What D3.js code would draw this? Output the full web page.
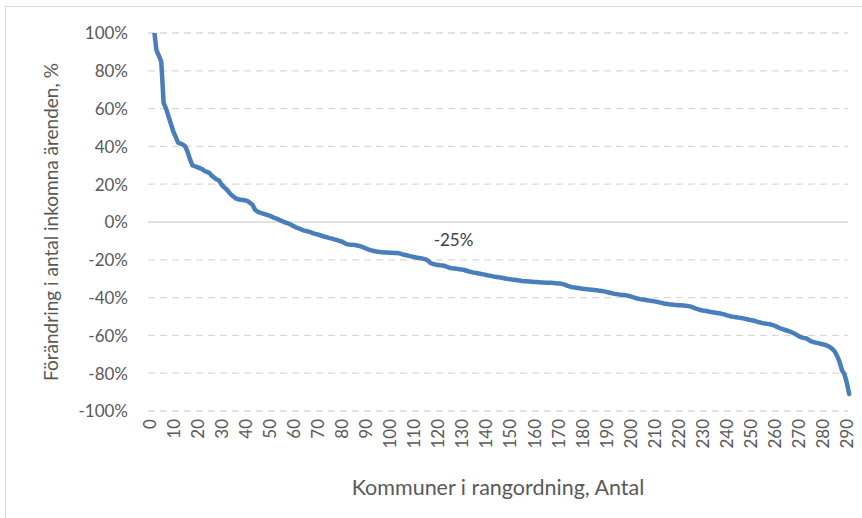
<!DOCTYPE html>
<html lang="sv">
<head>
    <meta charset="UTF-8">
    <title>Förändring i antal inkomna ärenden</title>
    <script src="https://d3js.org/d3.v7.min.js"></script>
    <style>
        body {
            margin: 0;
            background-color: #ffffff;
            font-family: Lato, "Open Sans", sans-serif;
        }

        svg {
            display: block;
        }

        .grid line {
            stroke: #d9d9d9;
            stroke-width: 1.3px;
            stroke-dasharray: 7 5;
        }

        .grid line.zero {
            stroke-dasharray: none;
        }

        .axis text {
            fill: #595959;
            font-size: 17px;
        }

        .axis-title {
            fill: #595959;
            font-size: 19px;
        }

        .x-title {
            font-size: 21.5px;
        }

        .line {
            fill: none;
            stroke: #4a7ebb;
            stroke-width: 4.5px;
            stroke-linejoin: round;
            stroke-linecap: round;
        }

        .note {
            fill: #404040;
            font-size: 17px;
        }
    </style>
</head>
<body>
<svg width="862" height="518"></svg>
<script>
    // förändring i procent per kommun, i rangordning (0..290)
    const change = [
        140, 120, 102, 91, 88, 85, 63, 60, 56, 52,
        48, 45, 42, 41.5, 41, 40, 37, 33, 30, 29.5,
        29, 28.5, 28, 27, 26.5, 26, 24.5, 23.5, 22.5, 22,
        20, 18.5, 17.5, 16, 14.5, 13.5, 12.5, 12, 11.8, 11.6,
        11.4, 11, 10, 9, 6.5, 5.5, 5, 4.6, 4.2, 3.8,
        3.4, 2.8, 2.2, 1.8, 1.2, 0.6, 0, -0.4, -0.9, -1.5,
        -2.2, -2.8, -3.3, -3.8, -4.4, -4.7, -5, -5.4, -5.9, -6.3,
        -6.6, -7, -7.4, -7.8, -8.1, -8.5, -8.8, -9.2, -9.5, -10,
        -10.3, -11, -11.7, -11.9, -12, -12.1, -12.3, -12.6, -12.9, -13.4,
        -14, -14.5, -14.9, -15.2, -15.5, -15.7, -15.9, -16, -16.1, -16.2,
        -16.3, -16.3, -16.4, -16.4, -16.6, -17, -17.3, -17.6, -17.9, -18.2,
        -18.5, -18.8, -19, -19.2, -19.5, -19.8, -20.5, -21.8, -22.2, -22.5,
        -22.7, -22.9, -23, -23.3, -23.8, -24.3, -24.5, -24.6, -24.8, -25,
        -25.2, -25.4, -25.8, -26.2, -26.5, -26.8, -27, -27.2, -27.5, -27.7,
        -28, -28.3, -28.5, -28.8, -29, -29.2, -29.4, -29.6, -29.9, -30.1,
        -30.3, -30.5, -30.6, -30.8, -31, -31.2, -31.3, -31.4, -31.5, -31.6,
        -31.7, -31.8, -31.9, -32, -32, -32.1, -32.2, -32.2, -32.3, -32.4,
        -32.5, -32.6, -32.9, -33.3, -33.8, -34.2, -34.5, -34.7, -34.9, -35.1,
        -35.3, -35.5, -35.6, -35.7, -35.8, -36, -36.1, -36.3, -36.5, -36.7,
        -37, -37.3, -37.6, -37.9, -38.1, -38.3, -38.5, -38.6, -38.8, -39,
        -39.3, -39.7, -40.1, -40.5, -40.8, -41, -41.2, -41.4, -41.6, -41.8,
        -42, -42.2, -42.5, -42.8, -43.1, -43.3, -43.5, -43.6, -43.8, -43.9,
        -44, -44.1, -44.2, -44.3, -44.5, -44.7, -45.2, -45.7, -46.1, -46.5,
        -46.8, -47, -47.2, -47.5, -47.7, -47.9, -48.1, -48.3, -48.6, -48.9,
        -49.3, -49.7, -50, -50.2, -50.4, -50.6, -50.8, -51, -51.3, -51.6,
        -51.9, -52.1, -52.4, -52.8, -53.2, -53.5, -53.7, -53.9, -54.1, -54.4,
        -54.9, -55.5, -56.1, -56.6, -57, -57.4, -57.8, -58.3, -58.9, -59.6,
        -60.4, -61, -61.3, -61.5, -62.2, -63, -63.5, -63.8, -64.1, -64.4,
        -64.7, -65, -65.5, -66.2, -67.2, -68.5, -71, -74, -78.5, -80.5,
        -85, -91
    ];

    const yTicks = [-100, -80, -60, -40, -20, 0, 20, 40, 60, 80, 100];
    const xTicks = d3.range(0, 291, 10);

    const medianLabel = "-25%";
    const medianPos = [126.5, -9.5];   // rang, procent för etiketten

    const svg = d3.select("svg"),
        margin = {top: 33, right: 14, bottom: 107, left: 148},
        width = +svg.attr("width") - margin.left - margin.right,
        height = +svg.attr("height") - margin.top - margin.bottom;

    // ram runt diagrammet
    svg.append("rect")
        .attr("x", 5.5).attr("y", 6.5)
        .attr("width", 900).attr("height", 600)
        .attr("fill", "none")
        .attr("stroke", "#d9d9d9");

    const g = svg.append("g").attr("transform", `translate(${margin.left},${margin.top})`);

    const x = d3.scaleLinear().domain([-0.5, 290.5]).range([0, width]);
    const y = d3.scaleLinear().domain([-100, 100]).range([height, 0]);

    const pct = v => `${v}%`;

    // rutnät
    g.append("g")
        .attr("class", "grid")
        .selectAll("line")
        .data(yTicks)
        .join("line")
        .attr("class", d => d === 0 ? "zero" : null)
        .attr("x1", 0).attr("x2", width)
        .attr("y1", d => y(d)).attr("y2", d => y(d));

    // y-axel
    const yAxis = g.append("g")
        .attr("class", "axis")
        .call(d3.axisLeft(y).tickValues(yTicks).tickFormat(pct).tickSize(0).tickPadding(20));
    yAxis.select(".domain").remove();
    yAxis.selectAll("text").attr("font-family", "Lato").attr("dy", "0.35em");

    // x-axel
    const xAxis = g.append("g")
        .attr("class", "axis")
        .attr("transform", `translate(0,${height})`)
        .call(d3.axisBottom(x).tickValues(xTicks).tickFormat(d => d).tickSize(0));
    xAxis.select(".domain").remove();
    xAxis.selectAll("text")
        .attr("font-family", "Lato")
        .attr("transform", "rotate(-90)")
        .attr("text-anchor", "end")
        .attr("x", -8)
        .attr("y", 0)
        .attr("dy", "0.35em");

    // klipp linjen till diagramytan
    g.append("clipPath").attr("id", "plot")
        .append("rect").attr("x", -5).attr("y", 0).attr("width", width + 10).attr("height", height + 10);

    const line = d3.line()
        .x((d, i) => x(i))
        .y(d => y(d));

    g.append("path")
        .datum(change)
        .attr("class", "line")
        .attr("clip-path", "url(#plot)")
        .attr("d", line);

    g.append("text")
        .attr("class", "note")
        .attr("x", x(medianPos[0]))
        .attr("y", y(medianPos[1]))
        .attr("text-anchor", "middle")
        .attr("dy", "0.35em")
        .text(medianLabel);

    // axeltitlar
    svg.append("text")
        .attr("class", "axis-title")
        .attr("transform", "rotate(-90)")
        .attr("x", -(margin.top + height / 2))
        .attr("y", 58)
        .attr("text-anchor", "middle")
        .text("Förändring i antal inkomna ärenden, %");

    svg.append("text")
        .attr("class", "axis-title x-title")
        .attr("x", margin.left + width / 2)
        .attr("y", 495)
        .attr("text-anchor", "middle")
        .text("Kommuner i rangordning, Antal");
</script>
</body>
</html>
